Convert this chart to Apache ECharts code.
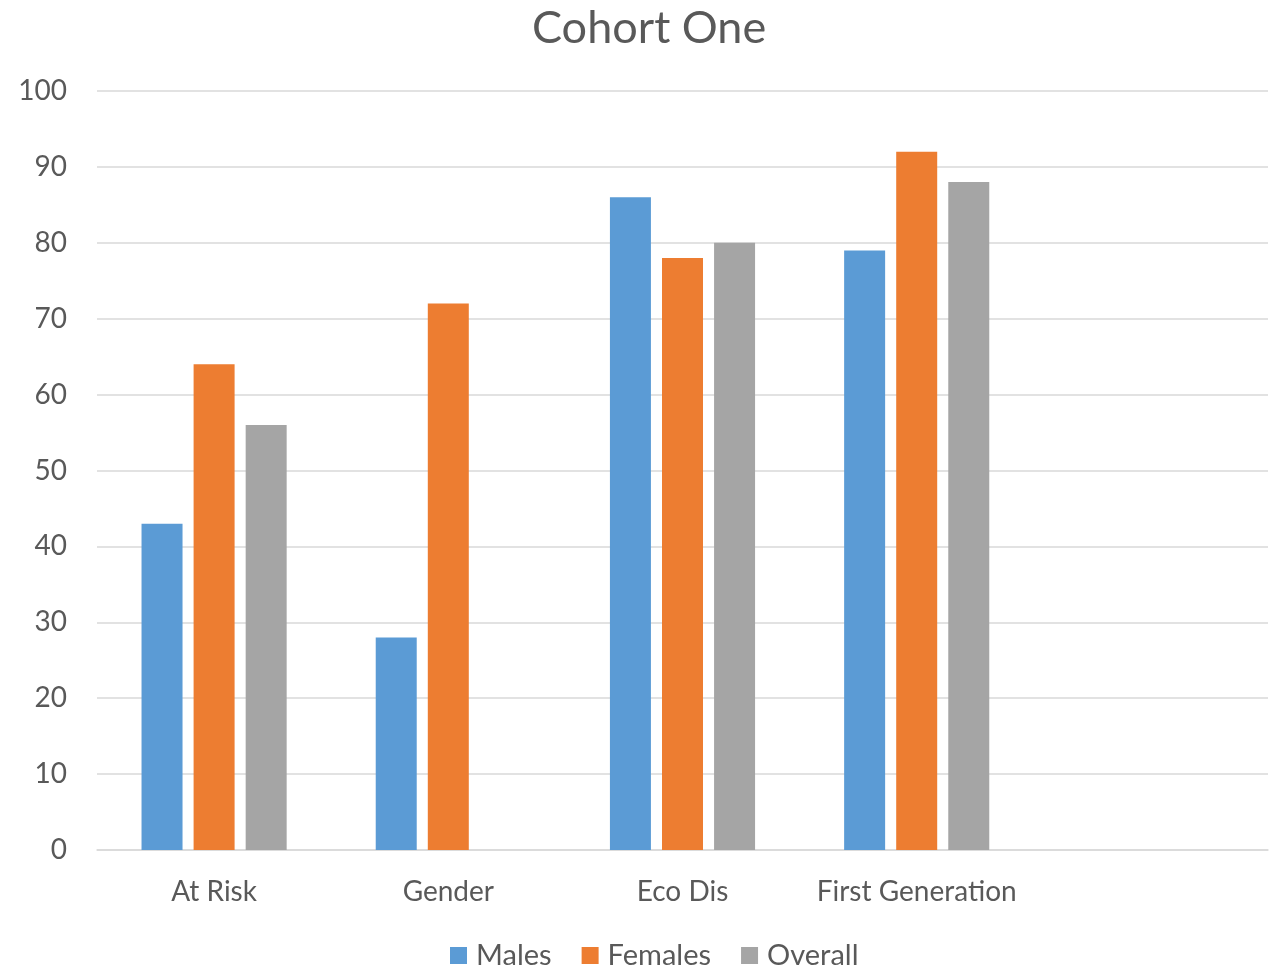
<!DOCTYPE html>
<html>
<head>
<meta charset="utf-8">
<script src="https://cdn.jsdelivr.net/npm/echarts@6/dist/echarts.min.js"></script>
<style>html,body{margin:0;padding:0;background:#fff}#c{width:1281px;height:970px}</style>
</head>
<body>
<div id="c"></div>
<script>
const categories = ['At Risk', 'Gender', 'Eco Dis', 'First Generation', ''];
const males = [43, 28, 86, 79, null];
const females = [64, 72, 78, 92, null];
const overall = [56, null, 80, 88, null];
const yTicks = { min: 0, max: 100, interval: 10 };

const chart = echarts.init(document.getElementById('c'));
const font = "Lato, 'Open Sans', sans-serif";
chart.setOption({
  animation: false,
  textStyle: { fontFamily: font },
  title: {
    text: 'Cohort One', left: 527, top: 1,
    textStyle: { fontSize: 45, fontWeight: 'normal', color: '#595959', fontFamily: font }
  },
  legend: {
    top: 936, left: 445, itemWidth: 17, itemHeight: 17, itemGap: 30,
    icon: 'rect',
    textStyle: { fontSize: 29, color: '#595959', fontFamily: font, padding: [0, 0, 0, 4] },
    data: ['Males', 'Females', 'Overall']
  },
  grid: { left: 97, right: 13, top: 91, bottom: 120 },
  xAxis: {
    type: 'category', data: categories,
    axisLine: { show: true, lineStyle: { color: '#d9d9d9', width: 1.5 } },
    axisTick: { show: false },
    axisLabel: { fontSize: 28, color: '#595959', margin: 28, interval: 0, fontFamily: font }
  },
  yAxis: {
    type: 'value', min: yTicks.min, max: yTicks.max, interval: yTicks.interval,
    axisLine: { show: false }, axisTick: { show: false },
    splitLine: { lineStyle: { color: '#d9d9d9', width: 1.5 } },
    axisLabel: { fontSize: 28, color: '#595959', margin: 30, fontFamily: font }
  },
  series: [
    { name: 'Males', type: 'bar', data: males, barWidth: 41, barGap: '27%', itemStyle: { color: '#5b9bd5' } },
    { name: 'Females', type: 'bar', data: females, barWidth: 41, barGap: '27%', itemStyle: { color: '#ed7d31' } },
    { name: 'Overall', type: 'bar', data: overall, barWidth: 41, barGap: '27%', itemStyle: { color: '#a5a5a5' } }
  ]
});
</script>
</body>
</html>
